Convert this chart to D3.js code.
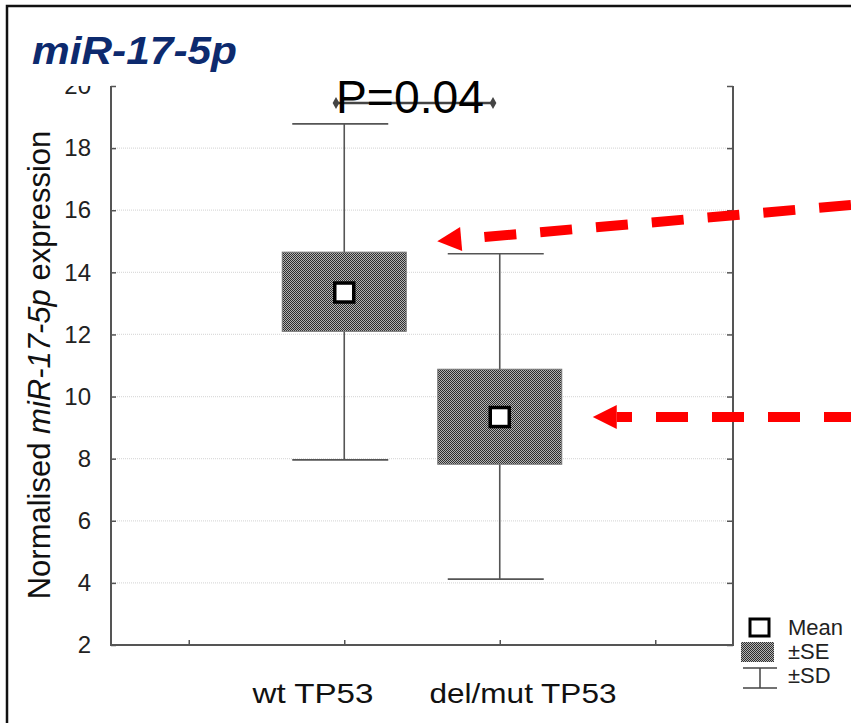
<!DOCTYPE html>
<html>
<head>
<meta charset="utf-8">
<script src="https://d3js.org/d3.v7.min.js"></script>
<style>
  body { margin: 0; background: #fff; }
  svg { display: block; font-family: "Liberation Sans", Arial, sans-serif; }
</style>
</head>
<body>
<svg id="chart" width="851" height="723"></svg>
<script>
// values
const groups = ["wt TP53", "del/mut TP53"];
const groupPos = [1, 2];
const means = [13.35, 9.34];
const seLow = [12.1, 7.82];
const seHigh = [14.65, 10.88];
const sdLow = [7.96, 4.12];
const sdHigh = [18.78, 14.6];
const yTicks = [2, 4, 6, 8, 10, 12, 14, 16, 18, 20];
const xTicks = [0, 1, 2, 3];
const pText = "P=0.04";
const legendItems = ["Mean", "\u00b1SE", "\u00b1SD"];

const svg = d3.select('#chart');
const axisCol = '#555';

// frame
svg.append('rect').attr('x', 7).attr('y', 6).attr('width', 900).attr('height', 800)
  .attr('fill', 'white').attr('stroke', '#111').attr('stroke-width', 2.5);

// checker pattern for SE boxes
const pat = svg.append('defs').append('pattern').attr('id', 'chk')
  .attr('width', 2).attr('height', 2).attr('patternUnits', 'userSpaceOnUse');
pat.append('rect').attr('width', 2).attr('height', 2).attr('fill', '#b4b4b4');
pat.append('rect').attr('width', 1).attr('height', 1).attr('fill', '#2e2e2e');
pat.append('rect').attr('x', 1).attr('y', 1).attr('width', 1).attr('height', 1).attr('fill', '#2e2e2e');

const y = d3.scaleLinear().domain([2, 20]).range([645, 86]);
const x = d3.scaleLinear().domain([-0.5, 3.5]).range([111, 733]);
const boxHalf = 62;
const capHalf = 48;

// grid
svg.append('g').selectAll('line').data(yTicks.filter(d => d > 2 && d < 20)).enter().append('line')
  .attr('x1', x(-0.5)).attr('x2', x(3.5))
  .attr('y1', d => y(d)).attr('y2', d => y(d))
  .attr('stroke', '#dcdcdc').attr('stroke-width', 1.2).attr('stroke-dasharray', '1,1');

// left axis
svg.append('g').attr('transform', `translate(${x(-0.5)},0)`)
  .call(d3.axisLeft(y).tickValues(yTicks).tickSize(-5).tickPadding(20).tickFormat(d3.format('d')))
  .call(g => g.select('.domain').remove())
  .call(g => g.selectAll('line').attr('stroke', axisCol).attr('stroke-width', 1.5))
  .call(g => g.selectAll('text').attr('font-size', 24).attr('fill', '#222')
    .attr('font-family', '"Liberation Sans", Arial, sans-serif'));

// right axis
svg.append('g').attr('transform', `translate(${x(3.5)},0)`)
  .call(d3.axisRight(y).tickValues(yTicks).tickSize(-6).tickFormat(''))
  .call(g => g.select('.domain').remove())
  .call(g => g.selectAll('line').attr('stroke', axisCol).attr('stroke-width', 1.5));

// bottom axis
svg.append('g').attr('transform', `translate(0,${y(2)})`)
  .call(d3.axisBottom(x).tickValues(xTicks).tickSize(-5).tickFormat(''))
  .call(g => g.select('.domain').remove())
  .call(g => g.selectAll('line').attr('stroke', axisCol).attr('stroke-width', 1.5));

// axis lines
svg.append('path')
  .attr('d', `M${x(-0.5)},${y(20)}V${y(2)}H${x(3.5)}V${y(20)}`)
  .attr('fill', 'none').attr('stroke', axisCol).attr('stroke-width', 2);

// category labels
const labelLen = [121, 187];
const labelMid = [313, 523];
svg.append('g').selectAll('text').data(groups).enter().append('text')
  .attr('x', (d, i) => labelMid[i]).attr('y', 703)
  .attr('text-anchor', 'middle').attr('font-size', 28).attr('fill', '#111')
  .attr('textLength', (d, i) => labelLen[i]).attr('lengthAdjust', 'spacingAndGlyphs')
  .text(d => d);

// y label
const yl = svg.append('text')
  .attr('transform', 'translate(50,365) rotate(-90)')
  .attr('text-anchor', 'middle').attr('font-size', 31).attr('fill', '#111');
yl.append('tspan').text('Normalised ');
yl.append('tspan').attr('font-style', 'italic').text('miR-17-5p');
yl.append('tspan').text(' expression');

// whiskers (SD)
const wg = svg.append('g');
groups.forEach((g, i) => {
  const cx = x(groupPos[i]);
  wg.append('line').attr('x1', cx).attr('x2', cx).attr('y1', y(sdHigh[i])).attr('y2', y(sdLow[i]))
    .attr('stroke', axisCol).attr('stroke-width', 1.6);
  [sdHigh[i], sdLow[i]].forEach(v => {
    wg.append('line').attr('x1', cx - capHalf - 4).attr('x2', cx + capHalf - 4)
      .attr('y1', y(v)).attr('y2', y(v)).attr('stroke', axisCol).attr('stroke-width', 1.6);
  });
});

// SE boxes
svg.append('g').selectAll('rect').data(groups).enter().append('rect')
  .attr('x', (d, i) => x(groupPos[i]) - boxHalf)
  .attr('y', (d, i) => y(seHigh[i]))
  .attr('width', boxHalf * 2)
  .attr('height', (d, i) => y(seLow[i]) - y(seHigh[i]))
  .attr('fill', 'url(#chk)').attr('stroke', '#777').attr('stroke-width', 1);

// means
svg.append('g').selectAll('rect').data(means).enter().append('rect')
  .attr('x', (d, i) => x(groupPos[i]) - 9.5)
  .attr('y', d => y(d) - 9.5)
  .attr('width', 19).attr('height', 19)
  .attr('fill', 'white').attr('stroke', '#000').attr('stroke-width', 3.5);

// title area (covers top of the "20" label)
svg.append('rect').attr('x', 9).attr('y', 8).attr('width', 320).attr('height', 74).attr('fill', 'white');
svg.append('rect').attr('x', 9).attr('y', 8).attr('width', 98).attr('height', 78).attr('fill', 'white');
svg.append('text').attr('x', 32).attr('y', 64)
  .attr('font-size', 38).attr('font-weight', 'bold').attr('font-style', 'italic')
  .attr('fill', '#0d2a6e').attr('textLength', 205).attr('lengthAdjust', 'spacingAndGlyphs')
  .text('miR-17-5p');

// significance bar
const pg = svg.append('g');
pg.append('line').attr('x1', 336).attr('x2', 493).attr('y1', 103).attr('y2', 103)
  .attr('stroke', '#444').attr('stroke-width', 2.5);
[336, 493].forEach(px => {
  pg.append('path').attr('d', d3.symbol(d3.symbolDiamond, 40)())
    .attr('transform', `translate(${px},103)`).attr('fill', '#444');
});
pg.append('text').attr('x', 336).attr('y', 113).attr('font-size', 47).attr('fill', '#000')
  .attr('textLength', 148).attr('lengthAdjust', 'spacingAndGlyphs').text(pText);

// red annotation arrows
const red = '#ff0000';
const arrows = [
  { tip: [x(groupPos[0]) + boxHalf + 31, y(seHigh[0]) - 11], from: [851, 205], off: 0 },
  { tip: [x(groupPos[1]) + boxHalf + 31, y(means[1])], from: [851, y(means[1])], off: 5 }
];
const ag = svg.append('g');
arrows.forEach(a => {
  const dx = a.from[0] - a.tip[0], dy = a.from[1] - a.tip[1];
  const len = Math.hypot(dx, dy);
  const ux = dx / len, uy = dy / len;
  const bx = a.tip[0] + ux * 24, by = a.tip[1] + uy * 24;
  ag.append('line').attr('x1', a.from[0]).attr('y1', a.from[1]).attr('x2', bx).attr('y2', by)
    .attr('stroke', red).attr('stroke-width', 10)
    .attr('stroke-dasharray', '32,24').attr('stroke-dashoffset', a.off);
  const px = -uy * 12, py = ux * 12;
  ag.append('path')
    .attr('d', `M${a.tip[0]},${a.tip[1]}L${bx + px},${by + py}L${bx - px},${by - py}Z`)
    .attr('fill', red);
});

// legend
const lg = svg.append('g');
lg.append('rect').attr('x', 750).attr('y', 619).attr('width', 19).attr('height', 17)
  .attr('fill', 'white').attr('stroke', '#000').attr('stroke-width', 3);
lg.append('rect').attr('x', 741).attr('y', 642).attr('width', 33).attr('height', 20)
  .attr('fill', 'url(#chk)');
lg.append('path').attr('d', 'M743,668H777M760,668V688M743,688H777')
  .attr('fill', 'none').attr('stroke', '#444').attr('stroke-width', 1.5);
lg.selectAll('text').data(legendItems).enter().append('text')
  .attr('x', 788).attr('y', (d, i) => 635 + i * 24)
  .attr('font-size', 22).attr('fill', '#222').text(d => d);
</script>
</body>
</html>
